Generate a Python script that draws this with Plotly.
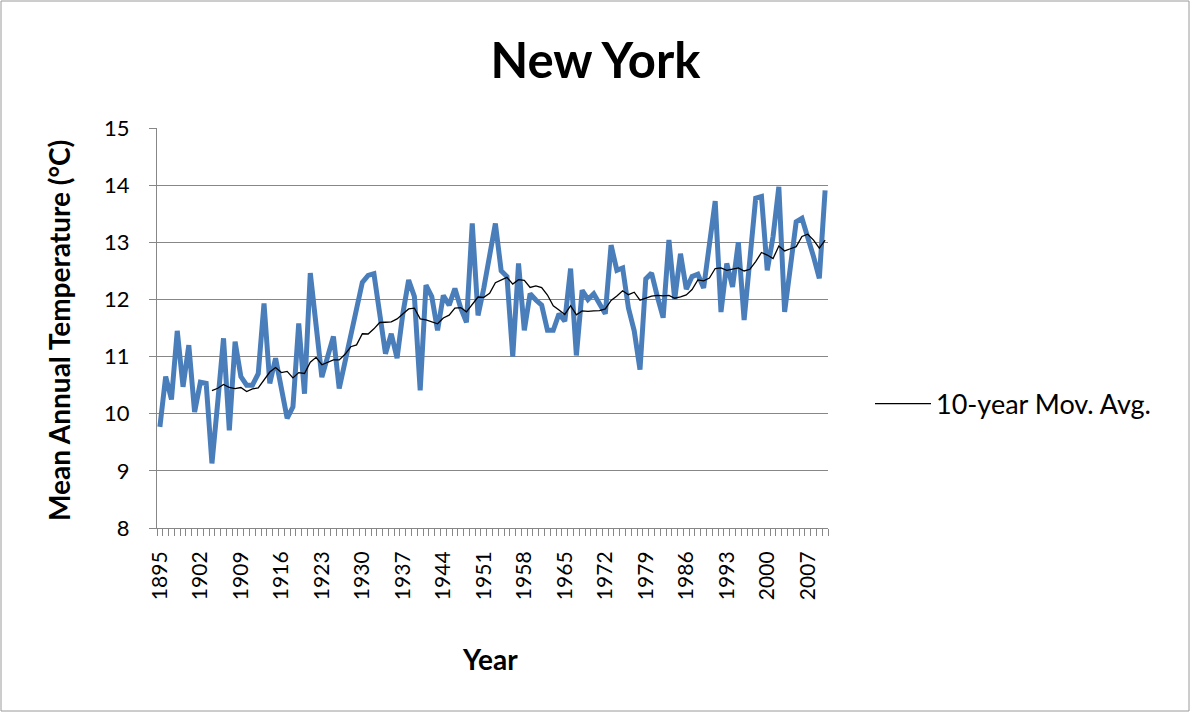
import pandas as pd
import plotly.graph_objects as go

# Mean annual temperature, New York (°C), 1895-2010
years = list(range(1895, 2011))
temps = [
    9.77, 10.65, 10.25, 11.45, 10.47, 11.20, 10.03, 10.55, 10.53, 9.13,   # 1895-1904
    10.20, 11.32, 9.71, 11.26, 10.65, 10.50, 10.50, 10.70, 11.93, 10.53,  # 1905-1914
    10.97, 10.45, 9.92, 10.12, 11.58, 10.35, 12.46, 11.55, 10.64, 11.00,  # 1915-1924
    11.35, 10.44, 10.90, 11.45, 11.90, 12.30, 12.42, 12.45, 11.75, 11.05,  # 1925-1934
    11.40, 10.97, 11.75, 12.34, 12.05, 10.41, 12.25, 12.05, 11.46, 12.07,  # 1935-1944
    11.90, 12.19, 11.85, 11.60, 13.33, 11.72, 12.20, 12.75, 13.33, 12.50,  # 1945-1954
    12.40, 11.00, 12.63, 11.46, 12.10, 11.99, 11.90, 11.46, 11.46, 11.75,  # 1955-1964
    11.62, 12.54, 11.02, 12.16, 12.00, 12.10, 11.94, 11.75, 12.95, 12.51,  # 1965-1974
    12.55, 11.85, 11.45, 10.77, 12.36, 12.46, 12.05, 11.68, 13.04, 12.00,  # 1975-1984
    12.80, 12.18, 12.40, 12.44, 12.20, 12.95, 13.72, 11.78, 12.63, 12.22,  # 1985-1994
    13.00, 11.64, 12.70, 13.77, 13.80, 12.51, 13.10, 13.97, 11.78, 12.60,  # 1995-2004
    13.36, 13.42, 13.10, 12.75, 12.37, 13.91,                              # 2005-2010
]
tick_years = list(range(1895, 2011, 7))
y_ticks = list(range(8, 16))

# 10-point trailing moving average
mov_avg = pd.Series(temps).rolling(10).mean()

GRID = "#878787"
FONT = "Lato"

fig = go.Figure()
fig.add_trace(go.Scatter(
    x=years, y=temps, mode="lines",
    line=dict(color="#4A7EBB", width=5, shape="linear"),
    showlegend=False, hoverinfo="x+y",
))
fig.add_trace(go.Scatter(
    x=years, y=mov_avg, mode="lines",
    line=dict(color="#000000", width=1.3),
    name="10-year Mov. Avg.",
))

fig.update_layout(
    width=1191, height=713,
    margin=dict(l=157, r=363, t=128, b=185, pad=0),
    paper_bgcolor="white", plot_bgcolor="white",
    font=dict(family=FONT, color="#000000", size=20),
    title=dict(text="<b>New York</b>", x=0.5, xref="container", xanchor="center",
               y=1 - 61 / 713, yref="container", yanchor="middle",
               font=dict(family=FONT, size=49, color="#000000")),
    showlegend=True,
    legend=dict(x=(870 - 157) / 671, y=(528 - 404) / 400, xanchor="left", yanchor="middle",
                bgcolor="rgba(0,0,0,0)", borderwidth=0, itemwidth=56,
                font=dict(family=FONT, size=27, color="#000000")),
    xaxis=dict(
        range=[1894.5, 2010.5], tickmode="array", tickvals=tick_years,
        ticktext=[str(y) for y in tick_years], tickangle=-90,
        ticks="outside", ticklen=14, tickcolor="rgba(0,0,0,0)",
        showline=True, linecolor=GRID, linewidth=1, mirror=False,
        showgrid=False, zeroline=False,
        tickfont=dict(family=FONT, size=21, color="#000000"),
        minor=dict(ticks="outside", ticklen=7, tickcolor=GRID, tickwidth=1,
                   tickmode="array", tickvals=[y - 0.5 for y in years] + [years[-1] + 0.5],
                   showgrid=False),
    ),
    yaxis=dict(
        range=[8, 15], tickmode="array", tickvals=y_ticks,
        ticks="outside", ticklen=7, tickcolor=GRID, tickwidth=1,
        showline=True, linecolor=GRID, linewidth=1,
        showgrid=True, gridcolor=GRID, gridwidth=1, zeroline=False,
        ticklabelstandoff=15,
        tickfont=dict(family=FONT, size=22, color="#000000"),
    ),
    annotations=[
        dict(text="<b>Mean Annual Temperature (°C)</b>", textangle=-90,
             xref="paper", yref="paper", x=(59 - 157) / 671, y=(528 - 331) / 400,
             xanchor="center", yanchor="middle", showarrow=False,
             font=dict(family=FONT, size=28, color="#000000")),
        dict(text="<b>Year</b>",
             xref="paper", yref="paper", x=(490 - 157) / 671, y=(528 - 659) / 400,
             xanchor="center", yanchor="middle", showarrow=False,
             font=dict(family=FONT, size=28, color="#000000")),
    ],
    shapes=[
        dict(type="rect", xref="paper", yref="paper",
             x0=(1 - 157) / 671, x1=(1189 - 157) / 671,
             y0=(528 - 711) / 400, y1=(528 - 1) / 400,
             line=dict(color="#9A9A9A", width=1), fillcolor="rgba(0,0,0,0)", layer="below"),
    ],
)

fig.write_html("out.html")
